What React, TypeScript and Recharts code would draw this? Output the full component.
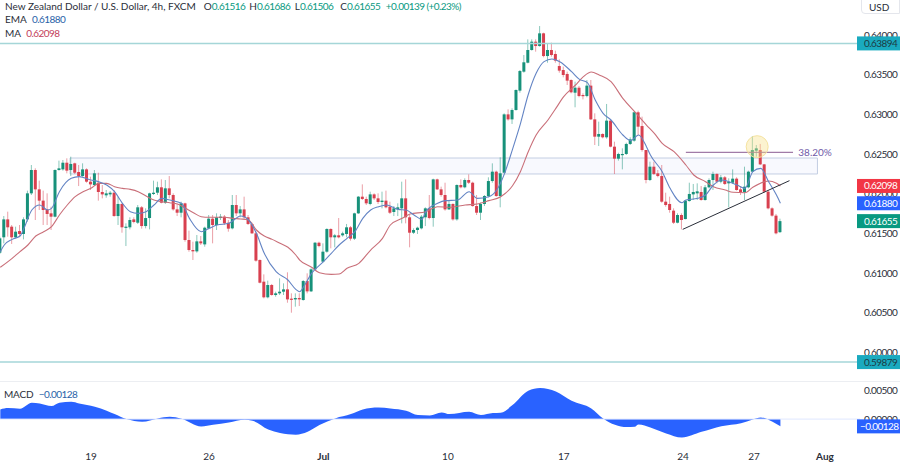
import {
  Area,
  Bar,
  ComposedChart,
  Line,
  ReferenceArea,
  ReferenceDot,
  ReferenceLine,
  XAxis,
  YAxis,
} from "recharts";

// 4h candles
const opens = [
  0.61257, 0.61451, 0.61677, 0.61585, 0.61451, 0.6153, 0.61493, 0.61677, 0.62005, 0.62299,
  0.62055, 0.61913, 0.61803, 0.61753, 0.61711, 0.62299, 0.62307, 0.62391, 0.62299, 0.62383,
  0.62274, 0.62223, 0.62307, 0.62152, 0.6211, 0.62139, 0.62022, 0.6198, 0.61992, 0.62013,
  0.61719, 0.61871, 0.61577, 0.61577, 0.61677, 0.61635, 0.61829, 0.61593, 0.61694, 0.61997,
  0.62013, 0.62081, 0.61887, 0.62068, 0.61984, 0.61803, 0.61761, 0.61879, 0.61417, 0.61291,
  0.61274, 0.614, 0.61362, 0.61564, 0.61686, 0.61606, 0.61694, 0.61711, 0.61635, 0.61564,
  0.61858, 0.61753, 0.61803, 0.61703, 0.61619, 0.61501, 0.61165, 0.60892, 0.60695, 0.6085,
  0.60724, 0.60745, 0.60766, 0.60795, 0.60678, 0.60669, 0.60686, 0.60661, 0.609, 0.6077,
  0.61047, 0.61383, 0.61144, 0.6127, 0.61556, 0.61451, 0.61476, 0.61476, 0.61493, 0.61577,
  0.61434, 0.61753, 0.61963, 0.61934, 0.61871, 0.61992, 0.61942, 0.61896, 0.61913, 0.61837,
  0.6177, 0.61803, 0.61816, 0.61942, 0.61703, 0.61509, 0.61543, 0.61564, 0.61703, 0.61816,
  0.61694, 0.62181, 0.62055, 0.61984, 0.61803, 0.61871, 0.61677, 0.6211, 0.62081, 0.62173,
  0.62139, 0.61845, 0.61761, 0.61871, 0.61971, 0.6216, 0.62278, 0.61971, 0.62265, 0.63,
  0.62937, 0.63055, 0.63299, 0.63538, 0.63651, 0.63811, 0.63916, 0.63861, 0.64021, 0.63735,
  0.63811, 0.63761, 0.63609, 0.63559, 0.63509, 0.63433, 0.63273, 0.63336, 0.63244, 0.63231,
  0.63362, 0.62937, 0.62719, 0.62753, 0.62711, 0.62921, 0.62593, 0.62442, 0.62488, 0.62501,
  0.62627, 0.62669, 0.63026, 0.62853, 0.62551, 0.62173, 0.62341, 0.62257, 0.62223, 0.619,
  0.61871, 0.61787, 0.61635, 0.61732, 0.61681, 0.61908, 0.61992, 0.62005, 0.62022, 0.61921,
  0.62081, 0.62173, 0.62249, 0.62152, 0.62207, 0.62131, 0.62139, 0.6219, 0.62055, 0.62022,
  0.62081, 0.62278, 0.62543, 0.62551, 0.6237, 0.62026, 0.61816, 0.61724, 0.61516,
];
const highs = [
  0.61459, 0.61719, 0.61774, 0.61606, 0.61585, 0.61606, 0.61703, 0.62039, 0.62362, 0.6232,
  0.62165, 0.62039, 0.62005, 0.61837, 0.62307, 0.62417, 0.62425, 0.62446, 0.62467, 0.62391,
  0.62362, 0.62383, 0.6232, 0.62215, 0.62299, 0.62265, 0.6211, 0.62047, 0.62034, 0.62047,
  0.61963, 0.61879, 0.61627, 0.61703, 0.61703, 0.61858, 0.61845, 0.61816, 0.62013, 0.62165,
  0.62152, 0.62181, 0.62173, 0.62223, 0.62005, 0.61871, 0.619, 0.61887, 0.61535, 0.61396,
  0.6148, 0.61467, 0.61585, 0.61732, 0.61732, 0.61753, 0.61745, 0.61732, 0.61669, 0.61984,
  0.61984, 0.61845, 0.61963, 0.61732, 0.61635, 0.61522, 0.61173, 0.60984, 0.60905, 0.60863,
  0.60766, 0.60934, 0.60871, 0.6101, 0.60745, 0.60745, 0.60745, 0.60913, 0.60997, 0.6106,
  0.61392, 0.61396, 0.61375, 0.61564, 0.61564, 0.61493, 0.61694, 0.61522, 0.61619, 0.61593,
  0.61761, 0.61971, 0.62118, 0.61963, 0.62026, 0.62005, 0.62005, 0.62026, 0.62039, 0.619,
  0.61845, 0.61879, 0.62152, 0.62181, 0.61732, 0.61564, 0.61585, 0.61732, 0.61829, 0.61984,
  0.6219, 0.6219, 0.62089, 0.62139, 0.61921, 0.61879, 0.62118, 0.62181, 0.62194, 0.62244,
  0.62152, 0.61984, 0.61887, 0.61984, 0.62207, 0.62383, 0.62291, 0.62459, 0.63013, 0.63063,
  0.63076, 0.63315, 0.63559, 0.63748, 0.63945, 0.63945, 0.63945, 0.64113, 0.64029, 0.63887,
  0.63903, 0.63803, 0.63693, 0.63601, 0.63538, 0.63441, 0.63412, 0.63357, 0.63265, 0.63433,
  0.63433, 0.63013, 0.62908, 0.62761, 0.63131, 0.62937, 0.62656, 0.62517, 0.62572, 0.62643,
  0.62711, 0.63034, 0.63047, 0.62971, 0.62551, 0.62404, 0.62404, 0.62299, 0.62362, 0.62013,
  0.61963, 0.61816, 0.61753, 0.61753, 0.61921, 0.62139, 0.62123, 0.62131, 0.62097, 0.6211,
  0.62194, 0.62278, 0.62257, 0.62236, 0.62223, 0.62194, 0.62307, 0.62207, 0.62097, 0.62341,
  0.62291, 0.62727, 0.62614, 0.62627, 0.62375, 0.62047, 0.61829, 0.61745, 0.61686,
];
const lows = [
  0.61241, 0.61375, 0.61459, 0.61367, 0.61438, 0.61451, 0.61425, 0.61648, 0.61984, 0.61669,
  0.61795, 0.61606, 0.61606, 0.61543, 0.61703, 0.62291, 0.62291, 0.62257, 0.62223, 0.62249,
  0.62097, 0.62215, 0.62139, 0.62047, 0.62097, 0.61913, 0.61942, 0.6195, 0.61963, 0.61711,
  0.61606, 0.61509, 0.61341, 0.61551, 0.61627, 0.61619, 0.6156, 0.61564, 0.61551, 0.61984,
  0.61984, 0.61879, 0.61871, 0.61942, 0.61787, 0.61719, 0.61703, 0.61396, 0.6127, 0.61165,
  0.61257, 0.61354, 0.61333, 0.61551, 0.61375, 0.61543, 0.61669, 0.61606, 0.61522, 0.61551,
  0.61719, 0.61703, 0.61677, 0.61606, 0.61493, 0.61144, 0.60871, 0.60682, 0.60682, 0.60716,
  0.60703, 0.60724, 0.60724, 0.60627, 0.60501, 0.60577, 0.60585, 0.60653, 0.60745, 0.60762,
  0.61039, 0.61325, 0.61131, 0.61257, 0.61312, 0.61325, 0.61438, 0.61459, 0.61451, 0.61409,
  0.61417, 0.61745, 0.61921, 0.61858, 0.61854, 0.61921, 0.61871, 0.61816, 0.61816, 0.61745,
  0.61719, 0.61719, 0.61627, 0.61627, 0.61325, 0.61493, 0.61493, 0.61551, 0.61593, 0.61677,
  0.61585, 0.62047, 0.61963, 0.61787, 0.61795, 0.61661, 0.61661, 0.62068, 0.62068, 0.62123,
  0.61837, 0.61732, 0.61669, 0.61845, 0.61955, 0.62139, 0.61963, 0.61829, 0.62257, 0.62921,
  0.62879, 0.63047, 0.63273, 0.63525, 0.63643, 0.63803, 0.6379, 0.63853, 0.63719, 0.63651,
  0.63727, 0.63651, 0.63525, 0.63467, 0.6337, 0.63265, 0.63089, 0.63215, 0.63189, 0.63215,
  0.62929, 0.62614, 0.62601, 0.62698, 0.62694, 0.62585, 0.62249, 0.62417, 0.62307, 0.62488,
  0.62614, 0.62656, 0.6274, 0.6253, 0.62131, 0.6216, 0.62236, 0.62207, 0.61887, 0.61837,
  0.61761, 0.61619, 0.61627, 0.61551, 0.61677, 0.619, 0.61921, 0.61921, 0.61913, 0.61913,
  0.62068, 0.62047, 0.62131, 0.62131, 0.6211, 0.61829, 0.62123, 0.62039, 0.61984, 0.61921,
  0.62068, 0.62265, 0.62467, 0.62362, 0.62013, 0.61803, 0.61711, 0.61488, 0.61506,
];
const closes = [
  0.61438, 0.61677, 0.61577, 0.61451, 0.61522, 0.61493, 0.61677, 0.62005, 0.62299, 0.62055,
  0.61913, 0.61795, 0.61745, 0.61711, 0.62299, 0.6232, 0.62391, 0.62291, 0.62375, 0.62265,
  0.62223, 0.62307, 0.62152, 0.62118, 0.62257, 0.62022, 0.61992, 0.62005, 0.62013, 0.61719,
  0.61871, 0.61577, 0.61585, 0.61669, 0.61644, 0.61829, 0.61593, 0.61694, 0.62005, 0.62013,
  0.62081, 0.61887, 0.62068, 0.61984, 0.61803, 0.61761, 0.61879, 0.61417, 0.61291, 0.61274,
  0.614, 0.61375, 0.61572, 0.61686, 0.61606, 0.61703, 0.61711, 0.61627, 0.6156, 0.61858,
  0.61753, 0.61803, 0.61703, 0.61619, 0.61501, 0.61157, 0.60879, 0.60695, 0.6085, 0.60724,
  0.60745, 0.60766, 0.60795, 0.60669, 0.60669, 0.60686, 0.60669, 0.609, 0.6077, 0.61047,
  0.61383, 0.61341, 0.6127, 0.61556, 0.61451, 0.61476, 0.61451, 0.61501, 0.61577, 0.61434,
  0.61753, 0.61963, 0.61934, 0.61879, 0.61992, 0.61942, 0.61896, 0.61913, 0.61829, 0.61761,
  0.61816, 0.61829, 0.61942, 0.61703, 0.61509, 0.61543, 0.61572, 0.61711, 0.61816, 0.61694,
  0.62181, 0.62055, 0.61984, 0.61803, 0.61871, 0.61677, 0.6211, 0.62081, 0.62173, 0.62139,
  0.61845, 0.61761, 0.61871, 0.61971, 0.6216, 0.62278, 0.61971, 0.62257, 0.63, 0.62937,
  0.63055, 0.63307, 0.63546, 0.63656, 0.63811, 0.63916, 0.63861, 0.64021, 0.63735, 0.63811,
  0.63748, 0.63677, 0.63551, 0.63496, 0.63425, 0.63278, 0.63336, 0.63231, 0.63231, 0.63362,
  0.62937, 0.62719, 0.62753, 0.62711, 0.62921, 0.62593, 0.62442, 0.62501, 0.62501, 0.62627,
  0.62685, 0.63026, 0.62845, 0.62551, 0.62173, 0.62341, 0.62249, 0.62223, 0.619, 0.61858,
  0.61795, 0.61635, 0.61732, 0.61669, 0.61913, 0.61997, 0.62022, 0.6203, 0.61921, 0.62081,
  0.62173, 0.62249, 0.62152, 0.62207, 0.62123, 0.62152, 0.6219, 0.62047, 0.62022, 0.62089,
  0.62278, 0.62551, 0.62572, 0.6237, 0.62026, 0.61816, 0.61724, 0.61501, 0.61655,
];

// [candle number, value] where the line could be read
const maPoints = [
  [0, 0.61073], [3, 0.61186], [5, 0.6127], [7, 0.61354], [9, 0.61467], [11, 0.61522], [13, 0.61585],
  [15, 0.61732], [17, 0.61858], [19, 0.61963], [21, 0.62026], [23, 0.62068], [25, 0.62131], [27, 0.62131],
  [29, 0.62089], [31, 0.62068], [33, 0.62055], [35, 0.62026], [37, 0.61971], [39, 0.61921], [41, 0.619],
  [43, 0.61887], [45, 0.61871], [47, 0.61816], [49, 0.61761], [51, 0.61711], [53, 0.61703], [55, 0.61703],
  [57, 0.61703], [59, 0.6169], [61, 0.61682], [63, 0.61669], [65, 0.61543], [67, 0.61467], [69, 0.61425],
  [71, 0.61375], [73, 0.61325], [75, 0.61228], [76, 0.61165], [79, 0.61073], [81, 0.61005], [84, 0.60984],
  [86, 0.60989], [88, 0.6106], [91, 0.61123], [94, 0.61291], [97, 0.61438], [99, 0.61606], [102, 0.6169],
  [104, 0.61745], [108, 0.61774], [111, 0.61837], [114, 0.61829], [118, 0.61858], [121, 0.61871],
  [124, 0.61913], [127, 0.61963], [130, 0.621], [132, 0.62278], [134, 0.6253], [136, 0.6274], [139, 0.62929],
  [141, 0.63076], [143, 0.63223], [146, 0.6337], [148, 0.63475], [150, 0.63534], [152, 0.63496],
  [155, 0.63412], [158, 0.63202], [161, 0.63034], [164, 0.62866], [166, 0.62761], [168, 0.62635],
  [171, 0.6253], [174, 0.62362], [176, 0.62236], [179, 0.62152], [181, 0.62089], [184, 0.62047],
  [186, 0.62018], [189, 0.62013], [191, 0.62081], [194, 0.62152], [195, 0.6216], [197, 0.62131], [198, 0.62098],
];
const emaPoints = [
  [0, 0.6127], [1, 0.61354], [3, 0.61425], [5, 0.61467], [6, 0.61564], [8, 0.61795], [10, 0.61858],
  [12, 0.61795], [13, 0.61816], [15, 0.62026], [18, 0.62194], [20, 0.62215], [23, 0.62173], [25, 0.62152],
  [27, 0.6211], [29, 0.62026], [31, 0.61879], [33, 0.61774], [35, 0.61753], [37, 0.61774], [39, 0.61858],
  [41, 0.61942], [43, 0.61921], [46, 0.61879], [48, 0.6169], [51, 0.61522], [53, 0.61564], [55, 0.61606],
  [58, 0.61627], [61, 0.61719], [63, 0.61669], [65, 0.61501], [67, 0.61249], [70, 0.61018], [73, 0.60913],
  [75, 0.60795], [76, 0.60766], [77, 0.60829], [79, 0.60997], [82, 0.61144], [84, 0.61249], [86, 0.61354],
  [88, 0.61438], [90, 0.61522], [92, 0.6169], [94, 0.61795], [96, 0.61837], [98, 0.61858], [101, 0.61803],
  [103, 0.61795], [105, 0.61732], [107, 0.61677], [108, 0.61774], [111, 0.61879], [113, 0.61913],
  [116, 0.61921], [119, 0.62026], [121, 0.61942], [124, 0.61963], [126, 0.62047], [128, 0.62257],
  [130, 0.6256], [132, 0.6288], [134, 0.6325], [136, 0.63517], [138, 0.63664], [140, 0.63698], [142, 0.63664],
  [145, 0.63538], [147, 0.63441], [149, 0.63399], [151, 0.63181], [153, 0.63013], [155, 0.62929],
  [158, 0.6274], [160, 0.62669], [162, 0.6274], [164, 0.62593], [165, 0.62488], [168, 0.62278], [170, 0.62068],
  [173, 0.61887], [174, 0.61921], [177, 0.61942], [179, 0.61984], [181, 0.6211], [183, 0.62173], [187, 0.6211],
  [189, 0.62068], [191, 0.62278], [193, 0.6232], [195, 0.62152], [197, 0.61984], [198, 0.6188],
];
const macdPoints = [
  [0, 0.00171], [2, 0.00194], [5, 0.00183], [8, 0.00289], [10, 0.00277], [13, 0.0023], [15, 0.00289],
  [18, 0.00306], [20, 0.00277], [24, 0.00218], [27, 0.00147], [29, 0.00088], [32, 0], [36, -0.00047],
  [40, 0.00012], [43, 0.00041], [46, 0.00006], [51, -0.0013], [54, -0.001], [58, -0.00059], [62, -0.00012],
  [64, -0.00029], [68, -0.00183], [71, -0.00247], [75, -0.00277], [78, -0.00224], [81, -0.00106],
  [85, 0.00012], [89, 0.00088], [92, 0.00171], [96, 0.00206], [99, 0.00188], [103, 0.00147], [106, 0.00071],
  [109, 0.00065], [112, 0.00118], [114, 0.00088], [119, 0.0013], [122, 0.00071], [125, 0.00106],
  [127, 0.00112], [130, 0.00247], [134, 0.005], [137, 0.00548], [141, 0.00489], [145, 0.00324], [150, 0.00188],
  [153, 0.00012], [156, -0.001], [159, -0.00141], [161, -0.00135], [162, -0.00094], [165, -0.00147],
  [169, -0.00253], [173, -0.00324], [178, -0.00224], [183, -0.00124], [188, -0.00071], [191, -0.00006],
  [193, 0.00029], [196, -0.00047], [198, -0.00128],
];

const priceTicks = [0.64, 0.635, 0.63, 0.625, 0.62, 0.615, 0.61, 0.605, 0.6];
const priceTags = [
  { value: 0.63894, color: "#1aaabf", text: "#1d3b44" },
  { value: 0.59879, color: "#1aaabf", text: "#1d3b44" },
  { value: 0.62098, color: "#f23645", text: "#fff" },
  { value: 0.6188, color: "#2962ff", text: "#fff" },
  { value: 0.61655, color: "#089981", text: "#fff" },
];
const macdTicks = [0.005, 0];
const macdTag = -0.00128;
const dateTicks = [23, 53, 82, 113.6, 143, 173.3, 191.3, 209.3];
const dateLabels = ["19", "26", "Jul", "10", "17", "24", "27", "Aug"];

const FONT = "Lato, 'Open Sans', sans-serif";
const NUM_SPACING = -0.55;
const UP = "#17917a";
const DOWN = "#d8404f";
const TEXT = "#2a2e39";
const X_DOMAIN: [number, number] = [-0.08, 218.2];

const candles = opens.map((open, i) => ({
  index: i,
  open,
  high: highs[i],
  low: lows[i],
  close: closes[i],
  range: [lows[i], highs[i]],
}));
const maData = maPoints.map(([index, ma]) => ({ index, ma }));
const emaData = emaPoints.map(([index, ema]) => ({ index, ema }));
const macdData = macdPoints.map(([index, macd]) => ({ index, macd }));

// body and wick from the bar's low-high range
function Candle(props: any) {
  const { x, width, y, height, payload } = props;
  const { open, close, high, low } = payload;
  const top = Math.min(y, y + height);
  const h = Math.abs(height);
  const perUnit = h / (high - low);
  const bodyTop = top + (high - Math.max(open, close)) * perUnit;
  const bodyH = Math.max(Math.abs(open - close) * perUnit, 1.2);
  const color = close >= open ? UP : DOWN;
  const cx = x + width / 2;
  return (
    <g>
      <line x1={cx} x2={cx} y1={top} y2={top + h} stroke={color} strokeOpacity={0.5} strokeWidth={1} />
      <rect x={cx - 1.5} y={bodyTop} width={3} height={bodyH} fill={color} />
    </g>
  );
}

function PriceTick(props: any) {
  const { y, payload } = props;
  const tag = priceTags.find((t) => t.value === payload.value);
  return (
    <g>
      {tag && <rect x={857} y={y - 7} width={43} height={14} fill={tag.color} />}
      <text x={864} y={y + 3.5} fontSize={10} letterSpacing={NUM_SPACING} fontFamily={FONT} fill={tag ? tag.text : TEXT}>
        {payload.value.toFixed(5)}
      </text>
    </g>
  );
}

function MacdTick(props: any) {
  const { y, payload } = props;
  const isTag = payload.value === macdTag;
  return (
    <g>
      {isTag && <rect x={857} y={y - 7} width={43} height={14} fill="#2962ff" />}
      <text x={isTag ? 860 : 864} y={y + 3.5} fontSize={10} letterSpacing={NUM_SPACING} fontFamily={FONT} fill={isTag ? "#fff" : TEXT}>
        {isTag ? "\u22120.00128" : payload.value.toFixed(5)}
      </text>
    </g>
  );
}

function DateTick(props: any) {
  const { x, y, payload } = props;
  const label = dateLabels[dateTicks.indexOf(payload.value)];
  const bold = label === "Jul" || label === "Aug";
  return (
    <text x={x} y={y + 7} textAnchor="middle" fontSize={10} fontFamily={FONT} fontWeight={bold ? 700 : 400} fill={TEXT}>
      {label}
    </text>
  );
}

const ohlc = [
  ["O", "0.61516"],
  ["H", "0.61686"],
  ["L", "0.61506"],
  ["C", "0.61655"],
];

function Legend() {
  const row = { position: "absolute", left: 5, whiteSpace: "nowrap", fontSize: 10, lineHeight: "13px" } as const;
  const num = { letterSpacing: NUM_SPACING };
  return (
    <div style={{ fontFamily: FONT, color: TEXT }}>
      <div style={{ ...row, top: 0 }}>
        New Zealand Dollar / U.S. Dollar, 4h, FXCM
        <span style={{ marginLeft: 8 }}>
          {ohlc.map(([k, v]) => (
            <span key={k} style={{ display: "inline-block", width: 45.5 }}>
              {k}
              <span style={{ ...num, color: "#089981" }}>{v}</span>
            </span>
          ))}
          <span style={{ ...num, color: "#089981" }}>+0.00139 (+0.23%)</span>
        </span>
      </div>
      <div style={{ ...row, top: 13 }}>
        EMA <span style={{ ...num, color: "#2962a8", marginLeft: 3 }}>0.61880</span>
      </div>
      <div style={{ ...row, top: 27 }}>
        MA <span style={{ ...num, color: "#c2405a", marginLeft: 3 }}>0.62098</span>
      </div>
    </div>
  );
}

export default function App() {
  return (
    <div style={{ position: "fixed", left: 0, top: 0, width: 900, height: 462, overflow: "hidden", background: "#fff" }}>
      <div style={{ position: "absolute", left: 0, top: 0 }}>
        <ComposedChart width={900} height={382} data={candles} margin={{ top: 0, right: 0, bottom: 0, left: 0 }}>
          <XAxis type="number" dataKey="index" domain={X_DOMAIN} hide allowDataOverflow />
          <YAxis
            orientation="right"
            width={40}
            domain={[0.59628, 0.64441]}
            ticks={[...priceTicks, ...priceTags.map((t) => t.value)]}
            interval={0}
            axisLine={false}
            tickLine={false}
            tick={PriceTick}
            allowDataOverflow
          />
          <ReferenceArea x1={17.7} x2={207.4} y1={0.62249} y2={0.6245} fill="#f5f7fd" fillOpacity={0.7} stroke="#c3cee2" strokeWidth={1} />
          <ReferenceLine y={0.63894} stroke="#a5d6d8" strokeWidth={1.5} />
          <ReferenceLine y={0.59879} stroke="#a5d6d8" strokeWidth={1.5} />
          <Bar dataKey="range" barSize={3} shape={Candle} isAnimationActive={false} />
          <Line data={maData} dataKey="ma" stroke="#c96f79" strokeWidth={1.1} dot={false} activeDot={false} legendType="none" type="monotone" isAnimationActive={false} />
          <Line data={emaData} dataKey="ema" stroke="#6384c4" strokeWidth={1.1} dot={false} activeDot={false} legendType="none" type="monotone" isAnimationActive={false} />
          <ReferenceLine segment={[{ x: 173.2, y: 0.61551 }, { x: 200.3, y: 0.62165 }]} stroke="#2a2e39" strokeWidth={1} />
          <ReferenceLine segment={[{ x: 174, y: 0.62522 }, { x: 201.2, y: 0.62522 }]} stroke="#8a5a92" strokeWidth={1} />
          <ReferenceDot x={192.1} y={0.62593} r={11} fill="#f7e08a" fillOpacity={0.4} stroke="#f5e3a0" strokeWidth={1} />
          <ReferenceDot x={206.8} y={0.62522} r={0} stroke="none" label={{ value: "38.20%", fill: "#6f5aa8", fontSize: 10, fontFamily: FONT, position: "center" }} />
        </ComposedChart>
      </div>
      <div style={{ position: "absolute", left: 0, top: 381, width: 900, borderTop: "1px solid #eceef2" }} />
      <div style={{ position: "absolute", left: 0, top: 382 }}>
        <ComposedChart width={900} height={80} data={macdData} margin={{ top: 0, right: 0, bottom: 0, left: 0 }}>
          <XAxis
            type="number"
            dataKey="index"
            domain={X_DOMAIN}
            ticks={dateTicks}
            interval={0}
            height={17}
            axisLine={false}
            tickLine={false}
            tick={DateTick}
            allowDataOverflow
          />
          <YAxis
            orientation="right"
            width={40}
            domain={[-0.00457, 0.00655]}
            ticks={[...macdTicks, macdTag]}
            interval={0}
            axisLine={false}
            tickLine={false}
            tick={MacdTick}
            allowDataOverflow
          />
          <Area dataKey="macd" type="monotone" baseValue={0} fill="#2962ff" fillOpacity={1} stroke="none" isAnimationActive={false} />
          <ReferenceLine y={0} stroke="#dfe7ff" strokeWidth={1} />
        </ComposedChart>
      </div>
      <div
        style={{
          position: "absolute",
          left: 861,
          top: -1,
          width: 39,
          height: 15,
          border: "1px solid #e4e6ec",
          borderRadius: "0 0 0 4px",
          fontFamily: FONT,
          fontSize: 10,
          lineHeight: "15px",
          color: TEXT,
          paddingLeft: 7,
          boxSizing: "border-box",
        }}
      >
        USD
      </div>
      <div style={{ position: "absolute", left: 4, top: 388, fontFamily: FONT, fontSize: 10, lineHeight: "13px", color: TEXT, whiteSpace: "nowrap", letterSpacing: -0.2 }}>
        MACD <span style={{ letterSpacing: NUM_SPACING, color: "#2962a8", marginLeft: 3 }}>{"\u22120.00128"}</span>
      </div>
      <Legend />
    </div>
  );
}
